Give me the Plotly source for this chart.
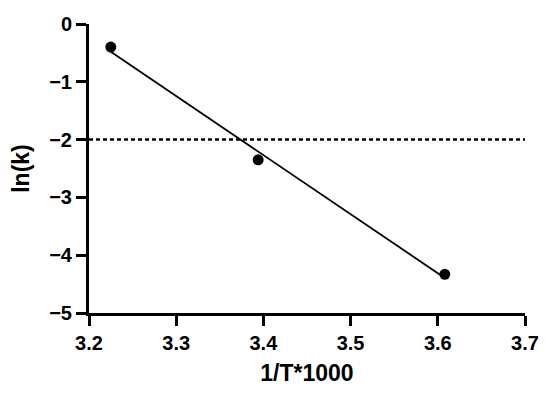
import numpy as np
import plotly.graph_objects as go

inv_T = [3.225, 3.394, 3.608]
ln_k = [-0.40, -2.35, -4.33]
ref_level = -2.0
x_ticks = [3.2, 3.3, 3.4, 3.5, 3.6, 3.7]
y_ticks = [0, -1, -2, -3, -4, -5]

slope, intercept = np.polyfit(inv_T, ln_k, 1)
fit_x = [min(inv_T), max(inv_T)]
fit_y = [slope * v + intercept for v in fit_x]

fig = go.Figure()
fig.add_trace(go.Scatter(x=[3.2, 3.7], y=[ref_level, ref_level], mode="lines",
                         line=dict(color="black", width=2.5, dash="4px,3px"), cliponaxis=False))
fig.add_trace(go.Scatter(x=fit_x, y=fit_y, mode="lines",
                         line=dict(color="black", width=1.8), cliponaxis=False))
fig.add_trace(go.Scatter(x=inv_T, y=ln_k, mode="markers",
                         marker=dict(color="black", size=11), cliponaxis=False))

font_fam = "Liberation Sans, Arial, sans-serif"
fig.update_layout(
    width=550, height=394,
    margin=dict(l=81, r=33, t=16, b=89),
    paper_bgcolor="white", plot_bgcolor="white",
    showlegend=False,
    font=dict(family=font_fam, color="black"),
)
fig.update_xaxes(range=[3.2, 3.7], tickvals=x_ticks, ticktext=[f"<b>{v:.1f}</b>" for v in x_ticks],
                 automargin=False,
                 showgrid=False, zeroline=False, showline=True, linecolor="black", linewidth=3,
                 ticks="outside", ticklen=10, tickwidth=3, tickcolor="black",
                 tickfont=dict(size=20, family=font_fam),
                 title=dict(text="<b>1/T*1000</b>", font=dict(size=23, family=font_fam), standoff=12))
fig.update_yaxes(range=[-5, 0], tickvals=y_ticks, ticktext=[f"<b>{v}</b>".replace("-", "\u2212") for v in y_ticks],
                 automargin=False,
                 showgrid=False, zeroline=False, showline=True, linecolor="black", linewidth=3,
                 ticks="outside", ticklen=10, tickwidth=3, tickcolor="black",
                 tickfont=dict(size=20, family=font_fam),
                 title=dict(text="<b>ln(k)</b>", font=dict(size=23, family=font_fam), standoff=18))

fig.write_html("out.html")
